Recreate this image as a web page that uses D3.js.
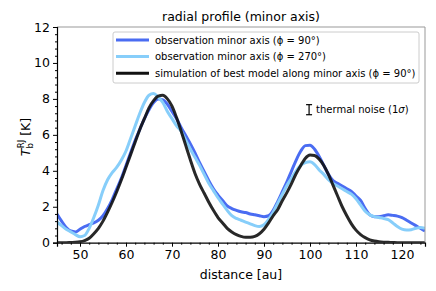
<!DOCTYPE html>
<html>
<head>
<meta charset="utf-8">
<script src="https://cdn.jsdelivr.net/npm/d3@7"></script>
<style>
  body { margin: 0; background: #fff; }
  text { font-family: "DejaVu Sans", sans-serif; }
</style>
</head>
<body>
<svg width="436" height="291"></svg>
<script>
// distance grid [au]
var dist = d3.range(45, 126, 1);

// observation phi = 90
var obs90 = [1.6, 1.2, 0.85, 0.65, 0.6, 0.75, 0.9, 1.0, 1.1, 1.25,
  1.5, 1.9, 2.4, 3.0, 3.6, 4.3, 5.0, 5.7, 6.3, 6.9,
  7.4, 7.8, 8.0, 7.95, 7.7, 7.3, 6.9, 6.4, 5.95, 5.5,
  5.0, 4.45, 3.95, 3.45, 3.0, 2.65, 2.35, 2.05, 1.9, 1.8,
  1.72, 1.68, 1.6, 1.55, 1.5, 1.45, 1.5, 1.8, 2.3, 2.85,
  3.4, 4.0, 4.6, 5.1, 5.4, 5.42, 5.2, 4.8, 4.3, 3.8,
  3.45, 3.3, 3.15, 3.0, 2.85, 2.6, 2.35, 1.9, 1.55, 1.45,
  1.45, 1.5, 1.55, 1.52, 1.48, 1.4, 1.25, 1.1, 0.95, 0.8, 0.65];

// observation phi = 270
var obs270 = [1.15, 0.95, 0.75, 0.6, 0.45, 0.33, 0.4, 0.8, 1.4, 2.1,
  2.9, 3.5, 3.9, 4.2, 4.6, 5.1, 5.8, 6.5, 7.2, 7.8,
  8.2, 8.3, 8.1, 7.8, 7.3, 6.9, 6.5, 6.2, 5.7, 5.2,
  4.75, 4.3, 3.8, 3.3, 2.9, 2.5, 2.15, 1.8, 1.5, 1.35,
  1.25, 1.15, 1.05, 0.95, 0.9, 1.0, 1.3, 1.7, 2.2, 2.7,
  3.2, 3.6, 4.0, 4.3, 4.45, 4.5, 4.35, 4.05, 3.8, 3.5,
  3.3, 3.15, 3.0, 2.85, 2.7, 2.45, 2.1, 1.75, 1.55, 1.45,
  1.4, 1.35, 1.28, 1.1, 0.9, 0.75, 0.7, 0.72, 0.8, 0.85, 0.8];

// best model simulation
var model = [0, 0, 0, 0.01, 0.02, 0.05, 0.12, 0.25, 0.5, 0.8,
  1.2, 1.7, 2.25, 2.85, 3.5, 4.2, 4.9, 5.6, 6.3, 6.9,
  7.5, 7.9, 8.15, 8.2, 8.0, 7.6, 6.95, 6.2, 5.4, 4.6,
  3.85, 3.25, 2.75, 2.25, 1.8, 1.4, 1.1, 0.8, 0.6, 0.45,
  0.35, 0.3, 0.3, 0.35, 0.5, 0.75, 1.1, 1.5, 1.85, 2.35,
  2.8, 3.3, 3.85, 4.3, 4.7, 4.88, 4.85, 4.65, 4.3, 3.8,
  3.2, 2.6, 2.0, 1.5, 1.05, 0.7, 0.45, 0.28, 0.16, 0.09,
  0.05, 0.03, 0.02, 0.01, 0, 0, 0, 0, 0, 0, 0];

var xTicks = [50, 60, 70, 80, 90, 100, 110, 120];
var yTicks = [0, 2, 4, 6, 8, 10, 12];
var legendLabels = ["observation minor axis (\u03d5 = 90\u00b0)",
  "observation minor axis (\u03d5 = 270\u00b0)",
  "simulation of best model along minor axis (\u03d5 = 90\u00b0)"];
var colors = ["#4a6cf2", "#87cefa", "#111111"];
var noise = { d: 99.8, v: 7.4, err: 0.28 };

var svg = d3.select('svg');
var pL = 57, pR = 425, pT = 27, pB = 242.7;

var x = d3.scaleLinear().domain([45, 125]).range([pL, pR]);
var y = d3.scaleLinear().domain([0, 12]).range([pB, pT]);

svg.append('clipPath').attr('id', 'clip').append('rect')
  .attr('x', pL).attr('y', pT).attr('width', pR - pL).attr('height', pB - pT);
var plot = svg.append('g');

var series = [obs90, obs270, model];
var line = d3.line().x(function (d, i) { return x(dist[i]); })
  .y(function (d) { return y(d); }).curve(d3.curveMonotoneX);

series.forEach(function (s, k) {
  plot.append('path').attr('d', line(s)).attr('fill', 'none')
    .attr('stroke', colors[k]).attr('stroke-width', 3)
    .attr('stroke-opacity', k == 2 ? 0.9 : 1)
    .attr('clip-path', 'url(#clip)');
});

// frame
svg.append('line').attr('x1', pL).attr('y1', pT).attr('x2', pR).attr('y2', pT).attr('stroke', '#999').attr('stroke-width', 1);
svg.append('line').attr('x1', pR).attr('y1', pT).attr('x2', pR).attr('y2', pB).attr('stroke', '#999').attr('stroke-width', 1);

// axes
var xAxis = svg.append('g').attr('transform', 'translate(0,' + pB + ')')
  .call(d3.axisBottom(x).tickValues(xTicks).tickSize(4).tickPadding(3).tickFormat(d3.format('d')));
svg.append('g').attr('transform', 'translate(0,' + pB + ')')
  .call(d3.axisBottom(x).tickValues(d3.range(46, 125, 2).filter(function (d) { return d % 10 != 0; })).tickSize(2).tickFormat(''))
  .select('.domain').remove();
var yAxis = svg.append('g').attr('transform', 'translate(' + pL + ',0)')
  .call(d3.axisLeft(y).tickValues(yTicks).tickSize(4).tickPadding(3));
svg.append('g').attr('transform', 'translate(' + pL + ',0)')
  .call(d3.axisLeft(y).tickValues(d3.range(0.4, 12, 0.4).filter(function (d) { return Math.abs(d / 2 - Math.round(d / 2)) > 0.01; })).tickSize(2).tickFormat(''))
  .select('.domain').remove();

svg.selectAll('.domain').attr('stroke', '#000').attr('stroke-width', 1.2);
svg.selectAll('.tick line').attr('stroke', '#000');
xAxis.selectAll('text').attr('font-size', 12.5).attr('fill', '#000');
yAxis.selectAll('text').attr('font-size', 12.5).attr('fill', '#000');

// title and labels
svg.append('text').attr('x', (pL + pR) / 2).attr('y', 21).attr('text-anchor', 'middle')
  .attr('font-size', 12.5).text('radial profile (minor axis)');
svg.append('text').attr('x', (pL + pR) / 2).attr('y', 279).attr('text-anchor', 'middle')
  .attr('font-size', 12.5).text('distance [au]');
var yl = svg.append('text').attr('transform', 'translate(30,137) rotate(-90)')
  .attr('text-anchor', 'middle').attr('font-size', 12.5);
yl.append('tspan').attr('font-style', 'italic').text('T');
yl.append('tspan').attr('font-size', 8.5).attr('dy', 3).text('b');
yl.append('tspan').attr('font-size', 8.5).attr('dy', -9).attr('dx', -5).text('RJ');
yl.append('tspan').attr('dy', 6).text(' [K]');

// legend
var lg = svg.append('g');
lg.append('rect').attr('x', 113).attr('y', 32).attr('width', 306).attr('height', 51).attr('rx', 2)
  .attr('fill', '#fff').attr('fill-opacity', 0.8).attr('stroke', '#ccc').attr('stroke-width', 1);
legendLabels.forEach(function (t, k) {
  var yy = 40 + k * 16.6;
  lg.append('line').attr('x1', 116).attr('x2', 149).attr('y1', yy).attr('y2', yy)
    .attr('stroke', colors[k]).attr('stroke-width', 3);
  lg.append('text').attr('x', 155).attr('y', yy + 3.5).attr('font-size', 10).text(t);
});

// thermal noise bar
var nx = x(noise.d);
svg.append('line').attr('x1', nx).attr('x2', nx).attr('y1', y(noise.v - noise.err)).attr('y2', y(noise.v + noise.err)).attr('stroke', '#000').attr('stroke-width', 1.2);
[noise.v - noise.err, noise.v + noise.err].forEach(function (v) {
  svg.append('line').attr('x1', nx - 3).attr('x2', nx + 3).attr('y1', y(v)).attr('y2', y(v)).attr('stroke', '#000').attr('stroke-width', 1.2);
});
var nt = svg.append('text').attr('x', nx + 7).attr('y', y(noise.v) + 3.5).attr('font-size', 10);
nt.append('tspan').text('thermal noise (1');
nt.append('tspan').attr('font-style', 'italic').text('\u03c3');
nt.append('tspan').text(')');
</script>
</body>
</html>
